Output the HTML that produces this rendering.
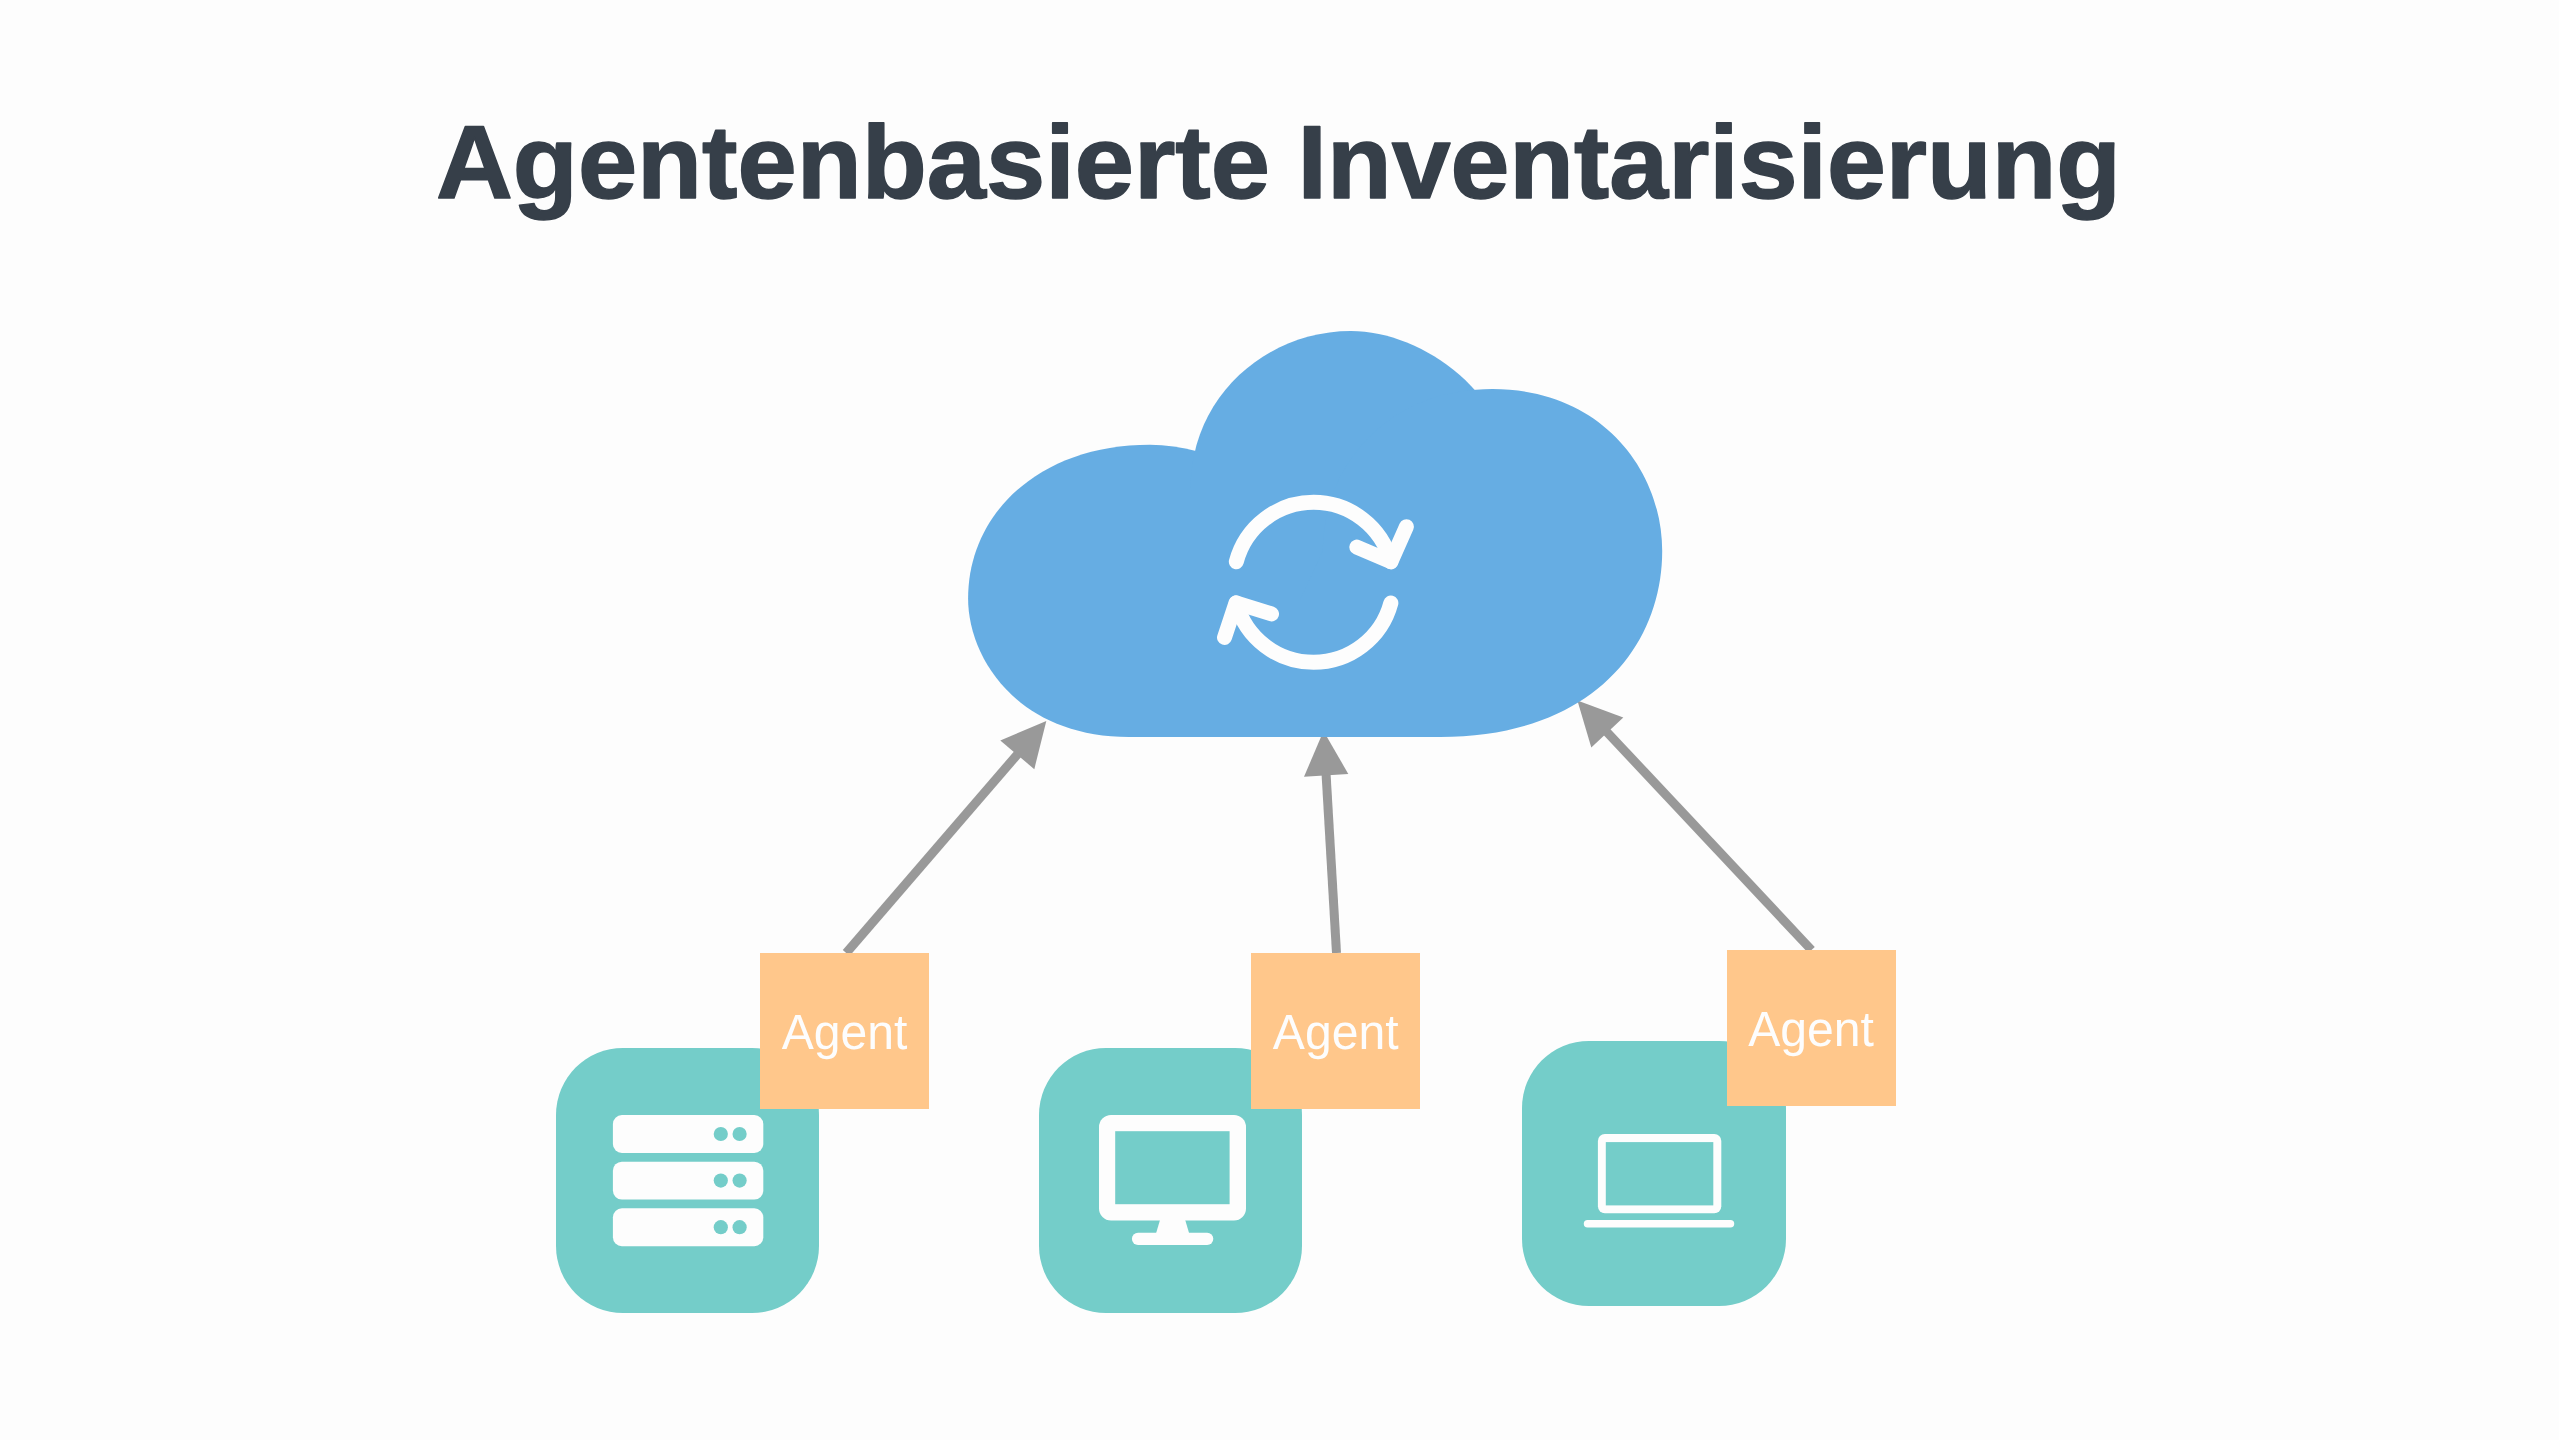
<!DOCTYPE html>
<html lang="de">
<head>
<meta charset="utf-8">
<title>Agentenbasierte Inventarisierung</title>
<style>
  html, body { margin: 0; padding: 0; background: #fdfdfd; }
  body { width: 2559px; height: 1440px; overflow: hidden; font-family: "Liberation Sans", sans-serif; }
  svg { display: block; position: absolute; left: 0; top: 0; }
  text { font-family: "Liberation Sans", sans-serif; }
</style>
</head>
<body>
<svg width="2559" height="1440" viewBox="0 0 2559 1440">
  <rect x="0" y="0" width="2559" height="1440" fill="#fdfdfd"/>

  <!-- Title -->
  <text id="title" y="197.8" font-size="104" font-weight="700" fill="#363f49" stroke="#363f49" stroke-width="1.5" stroke-linejoin="round" text-rendering="geometricPrecision"><tspan id="w1" x="436" textLength="834" lengthAdjust="spacingAndGlyphs">Agentenbasierte</tspan> <tspan id="w2" x="1297.6" textLength="823.4" lengthAdjust="spacingAndGlyphs">Inventarisierung</tspan></text>

  <!-- Arrows (drawn beneath the cloud) -->
  <g id="arrows" fill="#999999" stroke="none">
    <!-- arrow 1 -->
    <g id="arrow1">
      <line x1="846.2" y1="953" x2="1020" y2="751.4" stroke="#999999" stroke-width="9"/>
      <polygon points="1046.3,720.9 1000.3,740.4 1034.3,769.2"/>
    </g>
    <!-- arrow 2 -->
    <g id="arrow2">
      <line x1="1336.5" y1="953" x2="1326" y2="773" stroke="#999999" stroke-width="9"/>
      <polygon points="1323.5,731.1 1304,776.8 1348.3,773.9"/>
    </g>
    <!-- arrow 3 -->
    <g id="arrow3">
      <line x1="1811.5" y1="950" x2="1605" y2="730" stroke="#999999" stroke-width="9"/>
      <polygon points="1577.4,700.6 1591.3,747.6 1623.3,717.4"/>
    </g>
  </g>

  <!-- Cloud -->
  <g id="cloud" fill="#66ade3">
    <!-- left lobe -->
    <path d="M 968.1 598.5 C 968.1 513.2 1039.6 444.7 1150 444.7 C 1165.67 444.7 1181.33 446.87 1197 451.22 L 1331.9 520 L 1331.9 737 L 1129 737 C 1017.9 737 968.1 658.3 968.1 598.5 Z"/>
    <!-- main (top) lobe -->
    <path d="M 1190.65 488 C 1190.65 397.08 1265.81 331.1 1350.97 331.1 C 1423.3 331.1 1513.6 395.6 1513.6 488 L 1513.6 700 L 1190.65 700 Z"/>
    <!-- right lobe -->
    <path d="M 1492.5 389.1 C 1601.4 389.1 1662.2 470 1662.2 551 C 1662.2 647.6 1590.6 737 1440 737 L 1300 737 L 1300 600 L 1322.8 551 C 1322.8 470 1383.6 389.1 1492.5 389.1 Z"/>
  </g>

  <!-- Sync icon -->
  <g id="sync" fill="none" stroke="#fdfdfd" stroke-width="15" stroke-linecap="round" stroke-linejoin="round">
    <path d="M 1236.33 561.64 A 80 80 0 0 1 1390.87 561.64"/>
    <path d="M 1356.8 547.1 L 1390.9 561.7 L 1406.4 526.7"/>
    <path d="M 1390.87 603.06 A 80 80 0 0 1 1236.33 603.06"/>
    <path d="M 1271.5 613.9 L 1236.0 602.8 L 1224.5 637.5"/>
  </g>

  <!-- Teal device tiles -->
  <g id="tiles" fill="#74cdc9">
    <rect x="556" y="1048" width="263" height="265" rx="67" ry="67"/>
    <rect x="1039" y="1048" width="263" height="265" rx="67" ry="67"/>
    <rect x="1522" y="1041" width="264" height="265" rx="67" ry="67"/>
  </g>

  <!-- Server icon -->
  <g id="server">
    <g fill="#fdfdfd">
      <rect x="612.9" y="1115" width="150.4" height="37.9" rx="9" ry="9"/>
      <rect x="612.9" y="1161.7" width="150.4" height="37.9" rx="9" ry="9"/>
      <rect x="612.9" y="1208.3" width="150.4" height="37.9" rx="9" ry="9"/>
    </g>
    <g fill="#74cdc9">
      <circle cx="720.8" cy="1134" r="7.1"/><circle cx="739.6" cy="1134" r="7.1"/>
      <circle cx="720.8" cy="1180.6" r="7.1"/><circle cx="739.6" cy="1180.6" r="7.1"/>
      <circle cx="720.8" cy="1227.2" r="7.1"/><circle cx="739.6" cy="1227.2" r="7.1"/>
    </g>
  </g>

  <!-- Monitor icon -->
  <g id="monitor">
    <rect x="1099" y="1115" width="147" height="105.6" rx="12" ry="12" fill="#fdfdfd"/>
    <rect x="1115.2" y="1131.2" width="114.4" height="73" fill="#74cdc9"/>
    <polygon points="1160,1220 1185.2,1220 1189.2,1233.5 1156,1233.5" fill="#fdfdfd"/>
    <rect x="1131.9" y="1232.7" width="81.4" height="12.3" rx="6.15" ry="6.15" fill="#fdfdfd"/>
  </g>

  <!-- Laptop icon -->
  <g id="laptop">
    <rect x="1597.9" y="1134" width="123.4" height="79.3" rx="7" ry="7" fill="#fdfdfd"/>
    <rect x="1605.8" y="1142.1" width="107.5" height="63.3" fill="#74cdc9"/>
    <rect x="1583.8" y="1220" width="150.4" height="7.5" rx="3.75" ry="3.75" fill="#fdfdfd"/>
  </g>

  <!-- Agent boxes -->
  <g id="agents">
    <rect x="760" y="953" width="169" height="156" fill="#ffc78b"/>
    <rect x="1251" y="953" width="169" height="156" fill="#ffc78b"/>
    <rect x="1727" y="950" width="169" height="156" fill="#ffc78b"/>
    <g fill="#fdfdfd" font-size="49.4" text-anchor="middle" text-rendering="geometricPrecision">
      <text id="ag1" x="844.6" y="1049" textLength="125.8" lengthAdjust="spacingAndGlyphs">Agent</text>
      <text id="ag2" x="1335.7" y="1049" textLength="125.8" lengthAdjust="spacingAndGlyphs">Agent</text>
      <text id="ag3" x="1811.1" y="1045.7" textLength="125.8" lengthAdjust="spacingAndGlyphs">Agent</text>
    </g>
  </g>
</svg>
</body>
</html>
